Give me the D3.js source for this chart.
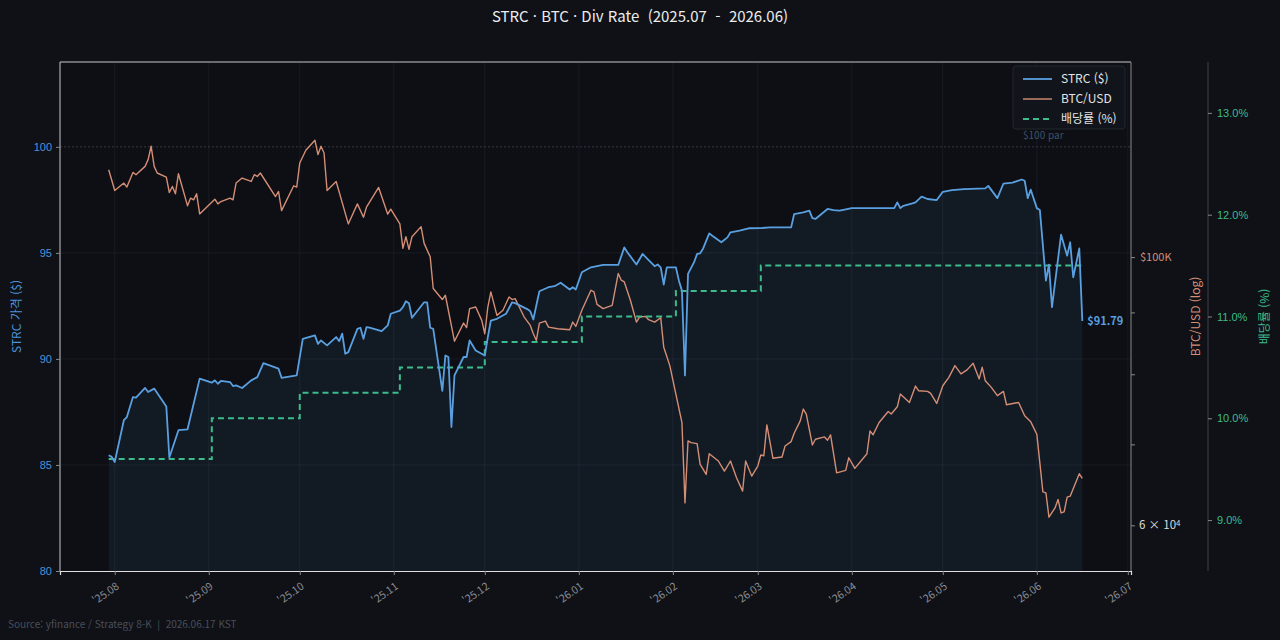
<!DOCTYPE html>
<html lang="ko">
<head>
<meta charset="utf-8">
<title>STRC · BTC · Div Rate</title>
<script src="https://cdn.jsdelivr.net/npm/d3@7"></script>
<style>
  html, body { margin: 0; padding: 0; background: #0f1117; }
  svg { display: block; font-family: "Noto Sans CJK KR", "Noto Sans", sans-serif; }
</style>
</head>
<body>
<script>
// STRC close ($)
var strcDates = ["2025-07-30","2025-07-31","2025-08-01","2025-08-04","2025-08-05","2025-08-07","2025-08-08","2025-08-11","2025-08-12","2025-08-14",
  "2025-08-18","2025-08-19","2025-08-22","2025-08-25","2025-08-29","2025-09-02","2025-09-03","2025-09-04","2025-09-05","2025-09-08",
  "2025-09-09","2025-09-10","2025-09-12","2025-09-15","2025-09-17","2025-09-19","2025-09-24","2025-09-25","2025-09-30","2025-10-02",
  "2025-10-06","2025-10-07","2025-10-08","2025-10-10","2025-10-13","2025-10-14","2025-10-15","2025-10-16","2025-10-17","2025-10-20",
  "2025-10-21","2025-10-22","2025-10-23","2025-10-24","2025-10-28","2025-10-30","2025-10-31","2025-11-03","2025-11-04","2025-11-05",
  "2025-11-06","2025-11-07","2025-11-11","2025-11-12","2025-11-13","2025-11-14","2025-11-17","2025-11-18","2025-11-19","2025-11-20",
  "2025-11-21","2025-11-24","2025-11-25","2025-11-26","2025-11-28","2025-12-01","2025-12-02","2025-12-03","2025-12-05","2025-12-08",
  "2025-12-10","2025-12-11","2025-12-15","2025-12-16","2025-12-17","2025-12-19","2025-12-22","2025-12-24","2025-12-26","2025-12-29",
  "2025-12-30","2025-12-31","2026-01-02","2026-01-05","2026-01-09","2026-01-14","2026-01-16","2026-01-17","2026-01-20","2026-01-22",
  "2026-01-26","2026-01-27","2026-01-28","2026-01-29","2026-01-30","2026-02-02","2026-02-03","2026-02-04","2026-02-05","2026-02-06",
  "2026-02-08","2026-02-09","2026-02-10","2026-02-11","2026-02-13","2026-02-14","2026-02-17","2026-02-19","2026-02-20","2026-02-23",
  "2026-02-26","2026-03-02","2026-03-05","2026-03-12","2026-03-13","2026-03-16","2026-03-18","2026-03-19","2026-03-20","2026-03-24",
  "2026-03-26","2026-03-28","2026-04-01","2026-04-15","2026-04-16","2026-04-17","2026-04-18","2026-04-21","2026-04-22","2026-04-24",
  "2026-04-26","2026-04-29","2026-05-01","2026-05-04","2026-05-08","2026-05-15","2026-05-16","2026-05-19","2026-05-21","2026-05-24",
  "2026-05-27","2026-05-28","2026-05-29","2026-05-30","2026-06-01","2026-06-02","2026-06-04","2026-06-05","2026-06-06","2026-06-09",
  "2026-06-11","2026-06-12","2026-06-13","2026-06-15","2026-06-16"];
var strcPrice = [85.46,85.38,85.14,87.11,87.26,88.20,88.17,88.63,88.44,88.60,
  87.76,85.35,86.64,86.68,89.07,88.88,88.99,88.83,88.96,88.91,
  88.72,88.75,88.63,88.99,89.14,89.80,89.54,89.11,89.22,90.95,
  91.11,90.71,90.87,90.64,91.03,90.84,91.19,90.24,90.32,91.42,
  91.47,90.95,91.50,91.47,91.31,91.58,92.13,92.28,92.44,92.72,
  92.63,91.94,92.67,92.67,91.47,91.42,88.49,90.16,90.09,86.79,
  89.22,90.09,90.09,90.87,90.40,90.16,91.03,91.81,91.89,92.13,
  92.67,92.63,92.35,92.25,91.86,93.19,93.38,93.43,93.59,93.27,
  93.38,93.27,94.09,94.32,94.43,94.43,95.26,95.03,94.45,94.95,
  94.37,94.45,94.32,93.51,94.32,94.32,93.69,93.22,89.22,94.01,
  94.56,94.95,94.98,95.21,95.92,95.81,95.50,95.73,95.97,96.05,
  96.16,96.17,96.20,96.20,96.83,96.91,96.99,96.64,96.60,97.07,
  97.02,96.99,97.11,97.11,97.38,97.11,97.22,97.33,97.38,97.65,
  97.54,97.49,97.88,97.96,98.01,98.04,98.16,97.58,98.27,98.31,
  98.46,98.40,97.58,97.98,97.11,97.02,93.69,94.45,92.44,95.86,
  94.87,95.50,93.85,95.21,91.79];

// BTC/USD close
var btcDates = ["2025-07-30","2025-08-01","2025-08-02","2025-08-04","2025-08-05","2025-08-07","2025-08-08","2025-08-11","2025-08-12","2025-08-13",
  "2025-08-14","2025-08-15","2025-08-18","2025-08-19","2025-08-20","2025-08-21","2025-08-22","2025-08-25","2025-08-26","2025-08-27",
  "2025-08-28","2025-08-29","2025-09-03","2025-09-04","2025-09-05","2025-09-08","2025-09-09","2025-09-10","2025-09-12","2025-09-15",
  "2025-09-16","2025-09-17","2025-09-18","2025-09-23","2025-09-24","2025-09-25","2025-09-29","2025-09-30","2025-10-01","2025-10-03",
  "2025-10-06","2025-10-07","2025-10-08","2025-10-09","2025-10-10","2025-10-13","2025-10-17","2025-10-20","2025-10-22","2025-10-23",
  "2025-10-27","2025-10-30","2025-10-31","2025-11-03","2025-11-04","2025-11-05","2025-11-06","2025-11-07","2025-11-10","2025-11-11",
  "2025-11-13","2025-11-14","2025-11-17","2025-11-18","2025-11-21","2025-11-24","2025-11-25","2025-11-26","2025-11-28","2025-11-30",
  "2025-12-01","2025-12-02","2025-12-03","2025-12-05","2025-12-07","2025-12-09","2025-12-10","2025-12-11","2025-12-14","2025-12-16",
  "2025-12-17","2025-12-18","2025-12-19","2025-12-21","2025-12-22","2025-12-25","2025-12-29","2025-12-30","2025-12-31","2026-01-02",
  "2026-01-05","2026-01-06","2026-01-07","2026-01-09","2026-01-12","2026-01-14","2026-01-15","2026-01-16","2026-01-18","2026-01-20",
  "2026-01-21","2026-01-23","2026-01-24","2026-01-26","2026-01-28","2026-01-29","2026-01-31","2026-02-02","2026-02-04","2026-02-05",
  "2026-02-06","2026-02-07","2026-02-09","2026-02-10","2026-02-12","2026-02-13","2026-02-16","2026-02-18","2026-02-20","2026-02-22",
  "2026-02-24","2026-02-25","2026-02-27","2026-03-01","2026-03-02","2026-03-03","2026-03-04","2026-03-06","2026-03-09","2026-03-10",
  "2026-03-12","2026-03-13","2026-03-15","2026-03-16","2026-03-17","2026-03-19","2026-03-20","2026-03-23","2026-03-24","2026-03-25",
  "2026-03-27","2026-03-30","2026-03-31","2026-04-02","2026-04-06","2026-04-07","2026-04-08","2026-04-10","2026-04-13","2026-04-14",
  "2026-04-16","2026-04-17","2026-04-20","2026-04-22","2026-04-23","2026-04-26","2026-04-27","2026-04-29","2026-05-01","2026-05-03",
  "2026-05-05","2026-05-07","2026-05-09","2026-05-11","2026-05-13","2026-05-14","2026-05-15","2026-05-17","2026-05-19","2026-05-21",
  "2026-05-22","2026-05-26","2026-05-28","2026-05-30","2026-06-01","2026-06-03","2026-06-04","2026-06-05","2026-06-07","2026-06-08",
  "2026-06-09","2026-06-10","2026-06-11","2026-06-12","2026-06-15","2026-06-16"];
var btcPrice = [118110,113520,114050,115140,114260,117500,116990,118860,120390,123500,
  118860,117370,116470,113090,114400,112810,117210,110250,111890,111520,
  112810,108570,111670,110670,111160,111890,111520,115140,116250,115500,
  116990,116610,117370,112230,113310,109260,114550,114260,119640,122560,
  124920,121550,123500,121940,113520,115500,106520,110670,107890,109980,
  114180,108510,109560,106520,101680,103960,101480,103960,105970,102650,
  100060,94190,92230,92990,85200,88190,87420,90650,90930,88650,
  86420,90930,93580,89490,90360,92680,92230,92400,89210,87800,
  86420,85320,88190,88530,87520,87250,87080,88360,87630,90360,
  93880,93580,91400,90650,91230,96930,95700,95380,92100,88360,
  89210,89330,88760,88360,89100,84230,81330,77040,72970,62620,
  70460,70230,70100,67390,66110,68770,67820,66530,67820,65680,
  64040,67820,65900,67170,68600,68500,72650,68170,68340,69790,
  70370,71500,73210,74870,74160,69920,70690,71000,70550,71280,
  66310,66620,68240,66870,68770,71820,71280,72970,74520,74160,
  75190,77040,75820,78230,77530,77430,77130,75680,78270,79530,
  81330,80050,80670,81690,79290,81070,79030,78030,76800,77430,
  75490,75820,73910,73070,71370,63950,63830,60930,62020,63030,
  61430,61550,63300,63420,66190,65610];

// dividend rate (%) - step changes
var divDates = ["2025-07-30","2025-09-02","2025-10-01","2025-11-03","2025-12-01","2026-01-02","2026-02-02","2026-03-02","2026-06-16"];
var divRate = [9.6,10.0,10.25,10.5,10.75,11.0,11.25,11.5,11.5];

var strcTicks = [80,85,90,95,100];
var btcTicks = [60000,70000,80000,90000,100000];
var divTicks = [9,10,11,12,13];

var W = 1280, H = 640;
var pL = 60, pR = 1131, pT = 62, pB = 571;
var divAxisX = 1208;
var parDate = d3.timeParse("%Y-%m-%d");

var cBlue = "#5aa0e1", cBtc = "#d48e76", cDiv = "#3dbb8a";

var strc = strcDates.map(function(d, i) { return {date: parDate(d), v: strcPrice[i]}; });
var btc = btcDates.map(function(d, i) { return {date: parDate(d), v: btcPrice[i]}; });
var div = divDates.map(function(d, i) { return {date: parDate(d), v: divRate[i]}; });

// x domain with 5% margins like matplotlib
var t0 = strc[0].date.getTime(), t1 = strc[strc.length - 1].date.getTime();
var pad = (t1 - t0) * 0.05;
var xScale = d3.scaleTime().domain([new Date(t0 - pad), new Date(t1 + pad)]).range([pL, pR]);
var yScale = d3.scaleLinear().domain([80, 104]).range([pB, pT]);
var bScale = d3.scaleLog().domain([55000, 145000]).range([pB, pT]);
var dScale = d3.scaleLinear().domain([8.5, 13.5]).range([pB, pT]);

var svg = d3.select("body").append("svg").attr("width", W).attr("height", H);
svg.append("rect").attr("width", W).attr("height", H).attr("fill", "#0f1117");
svg.append("rect").attr("x", pL).attr("y", pT).attr("width", pR - pL).attr("height", pB - pT)
  .attr("fill", "#0d0f14");

// grid
var months = d3.timeMonth.range(new Date(2025, 7, 1), new Date(2026, 6, 2));
svg.append("g").selectAll("line").data(months).enter().append("line")
  .attr("x1", function(d) { return xScale(d); }).attr("x2", function(d) { return xScale(d); })
  .attr("y1", pT).attr("y2", pB).attr("stroke", "#1a1e27").attr("stroke-width", 0.8);
svg.append("g").selectAll("line").data([85, 90, 95]).enter().append("line")
  .attr("x1", pL).attr("x2", pR)
  .attr("y1", function(d) { return yScale(d); }).attr("y2", function(d) { return yScale(d); })
  .attr("stroke", "#1a1e27").attr("stroke-width", 0.8);

// $100 par
svg.append("line").attr("x1", pL).attr("x2", pR).attr("y1", yScale(100)).attr("y2", yScale(100))
  .attr("stroke", "#3a3f4c").attr("stroke-width", 0.9).attr("stroke-dasharray", "2,2");
svg.append("text").attr("x", 1023).attr("y", yScale(100) - 8).text("$100 par")
  .attr("font-size", "10px").attr("fill", "#3b5269");

// STRC area + line
var area = d3.area().x(function(d) { return xScale(d.date); }).y0(pB).y1(function(d) { return yScale(d.v); });
svg.append("path").datum(strc).attr("d", area).attr("fill", cBlue).attr("fill-opacity", 0.08);

var btcLine = d3.line().x(function(d) { return xScale(d.date); }).y(function(d) { return bScale(d.v); });
svg.append("path").datum(btc).attr("d", btcLine).attr("fill", "none")
  .attr("stroke", cBtc).attr("stroke-width", 1.4).attr("stroke-linejoin", "round");

var divLine = d3.line().curve(d3.curveStepAfter)
  .x(function(d) { return xScale(d.date); }).y(function(d) { return dScale(d.v); });
svg.append("path").datum(div).attr("d", divLine).attr("fill", "none")
  .attr("stroke", cDiv).attr("stroke-width", 2).attr("stroke-dasharray", "6,4");

var strcLine = d3.line().x(function(d) { return xScale(d.date); }).y(function(d) { return yScale(d.v); });
svg.append("path").datum(strc).attr("d", strcLine).attr("fill", "none")
  .attr("stroke", cBlue).attr("stroke-width", 1.8).attr("stroke-linejoin", "round");

// last value label
var last = strc[strc.length - 1];
svg.append("text").attr("x", xScale(last.date) + 5).attr("y", yScale(last.v))
  .attr("dy", "0.35em").text("$" + last.v.toFixed(2))
  .attr("font-size", "11px").attr("font-weight", "bold").attr("fill", cBlue);

// spines
svg.append("line").attr("x1", pL).attr("x2", pR).attr("y1", pT).attr("y2", pT).attr("stroke", "#c8c8c8");
svg.append("line").attr("x1", pL).attr("x2", pL).attr("y1", pT).attr("y2", pB).attr("stroke", "#c8c8c8");
svg.append("line").attr("x1", pR).attr("x2", pR).attr("y1", pT).attr("y2", pB).attr("stroke", "#8a8a8a");
svg.append("line").attr("x1", divAxisX).attr("x2", divAxisX).attr("y1", pT).attr("y2", pB).attr("stroke", "#3c404a");

// x axis
var xAxis = svg.append("g").attr("transform", "translate(0," + pB + ")")
  .call(d3.axisBottom(xScale).tickValues(months).tickSize(4).tickFormat(""));
xAxis.select(".domain").attr("stroke", "#e0e0e0").attr("stroke-width", 1.2);
xAxis.selectAll(".tick line").attr("stroke", "#888");
var fmt = d3.timeFormat("'%y.%m");
svg.append("g").selectAll("text").data(months).enter().append("text")
  .attr("transform", function(d) { return "translate(" + (xScale(d) + 3) + "," + (pB + 14) + ") rotate(-35)"; })
  .attr("text-anchor", "end").attr("dy", "0.35em")
  .attr("font-size", "10.5px").attr("fill", "#8a8d94")
  .text(function(d) { return fmt(d); });

// left axis
var yAxis = svg.append("g").attr("transform", "translate(" + pL + ",0)")
  .call(d3.axisLeft(yScale).tickValues(strcTicks).tickSize(4).tickPadding(4));
yAxis.select(".domain").remove();
yAxis.selectAll(".tick line").attr("stroke", "#888");
yAxis.selectAll(".tick text").attr("fill", "#4d93d9").attr("font-size", "11px").attr("font-family", null);

// BTC log axis
var bAxis = svg.append("g").attr("transform", "translate(" + pR + ",0)")
  .call(d3.axisRight(bScale).tickValues(btcTicks).tickSize(4).tickPadding(5).tickFormat(""));
bAxis.select(".domain").remove();
bAxis.selectAll(".tick line").attr("stroke", "#8a8a8a");
svg.append("text").attr("x", pR + 9).attr("y", bScale(100000)).attr("dy", "0.35em")
  .attr("font-size", "11px").attr("fill", cBtc).text("$100K");
var sixty = svg.append("text").attr("x", pR + 8).attr("y", bScale(60000)).attr("dy", "0.35em")
  .attr("font-size", "11.5px").attr("fill", "#dcdcdc");
sixty.append("tspan").text("6 \u00d7 10");
sixty.append("tspan").attr("dy", "-0.45em").attr("font-size", "8px").text("4");

// dividend axis
var dAxis = svg.append("g").attr("transform", "translate(" + divAxisX + ",0)")
  .call(d3.axisRight(dScale).tickValues(divTicks).tickSize(4).tickPadding(5)
    .tickFormat(function(d) { return d.toFixed(1) + "%"; }));
dAxis.select(".domain").remove();
dAxis.selectAll(".tick line").attr("stroke", "#888");
dAxis.selectAll(".tick text").attr("fill", cDiv).attr("font-size", "11px").attr("font-family", null);

// axis labels
var mid = (pT + pB) / 2;
svg.append("text").attr("transform", "translate(17," + mid + ") rotate(-90)")
  .attr("text-anchor", "middle").attr("dy", "0.35em")
  .attr("font-size", "12px").attr("fill", "#4d93d9").text("STRC 가격 ($)");
svg.append("text").attr("transform", "translate(1196," + mid + ") rotate(-90)")
  .attr("text-anchor", "middle").attr("dy", "0.35em")
  .attr("font-size", "12px").attr("fill", cBtc).text("BTC/USD (log)");
svg.append("text").attr("transform", "translate(1265," + mid + ") rotate(-90)")
  .attr("text-anchor", "middle").attr("dy", "0.35em")
  .attr("font-size", "12px").attr("fill", cDiv).text("배당률 (%)");

// legend
var lg = svg.append("g");
lg.append("rect").attr("x", 1013).attr("y", 66).attr("width", 112).attr("height", 63).attr("rx", 3)
  .attr("fill", "#11141a").attr("stroke", "#22262e");
var legendItems = [
  {label: "STRC ($)", color: cBlue, dash: null, w: 1.8},
  {label: "BTC/USD", color: cBtc, dash: null, w: 1.4},
  {label: "배당률 (%)", color: cDiv, dash: "6,4", w: 2}
];
legendItems.forEach(function(it, i) {
  var y = 79 + i * 20;
  lg.append("line").attr("x1", 1023).attr("x2", 1052).attr("y1", y).attr("y2", y)
    .attr("stroke", it.color).attr("stroke-width", it.w).attr("stroke-dasharray", it.dash);
  lg.append("text").attr("x", 1061).attr("y", y).attr("dy", "0.35em")
    .attr("font-size", "12px").attr("fill", "#e4e4e4").text(it.label);
});

// title + source
svg.append("text").attr("x", W / 2).attr("y", 17).attr("dy", "0.35em").attr("text-anchor", "middle")
  .attr("font-size", "15px").attr("fill", "#ececec").style("white-space", "pre")
  .text("STRC · BTC · Div Rate  (2025.07  -  2026.06)");
svg.append("text").attr("x", 8).attr("y", 624).attr("dy", "0.35em")
  .attr("font-size", "10px").attr("fill", "#4a4e58").style("white-space", "pre")
  .text("Source: yfinance / Strategy 8-K  |  2026.06.17 KST");
</script>
</body>
</html>
